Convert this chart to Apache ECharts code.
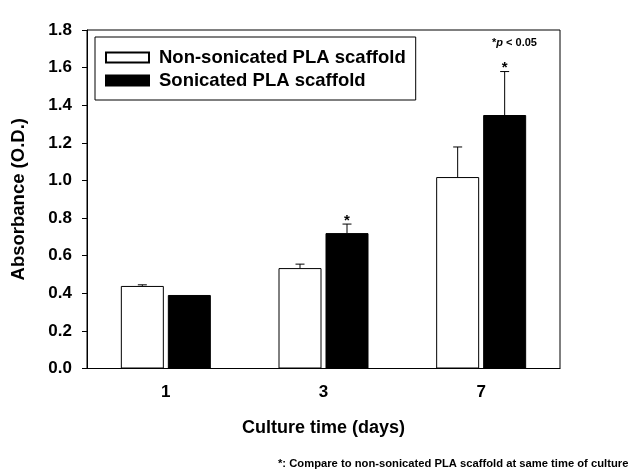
<!DOCTYPE html>
<html>
<head>
<meta charset="utf-8">
<script src="https://cdn.jsdelivr.net/npm/echarts@6/dist/echarts.min.js"></script>
<style>html,body{margin:0;padding:0;background:#fff}#c{width:639px;height:476px}</style>
</head>
<body>
<div id="c"></div>
<script>
const categories = ['1', '3', '7'];
const nonSonicated = [0.439, 0.534, 1.018];
const nonSonicatedErr = [0.006, 0.021, 0.160];
const sonicated = [0.391, 0.720, 1.348];
const sonicatedErr = [0, 0.048, 0.231];
const sonicatedMark = ['', '*', '*'];
const nonSonicatedMark = ['', '', ''];
const seriesNames = ['Non-sonicated PLA scaffold', 'Sonicated PLA scaffold'];
const yMin = 0, yMax = 1.8, yInterval = 0.2;

const FONT = "'Liberation Sans', Arial, sans-serif";
const BAR_W = 43, BAR_GAP = 4;
const offset = (BAR_W + BAR_GAP) / 2;

function errSeries(vals, errs, marks, dx) {
  return {
    type: 'custom',
    z: 5,
    silent: true,
    data: vals.map((v, i) => [i, v, errs[i], marks[i]]),
    renderItem: function (params, api) {
      const i = api.value(0), v = api.value(1), e = api.value(2);
      const mark = marks[i];
      const b = api.coord([i, v]);
      const t = api.coord([i, v + e]);
      const x = b[0] + dx;
      const children = [];
      if (e > 0) {
        children.push({type: 'line', shape: {x1: x, y1: b[1], x2: x, y2: t[1]}, style: {stroke: '#000', lineWidth: 1}});
        children.push({type: 'line', shape: {x1: x - 4.5, y1: t[1], x2: x + 4.5, y2: t[1]}, style: {stroke: '#000', lineWidth: 1}});
      }
      if (mark) {
        children.push({type: 'text', style: {x: x, y: t[1] + 4, text: mark, fill: '#000', font: 'bold 15px ' + FONT, align: 'center', verticalAlign: 'bottom'}});
      }
      return {type: 'group', children: children};
    }
  };
}

const chart = echarts.init(document.getElementById('c'));
chart.setOption({
  animation: false,
  backgroundColor: '#fff',
  textStyle: {fontFamily: FONT},
  grid: {left: 87, right: 79, top: 30, bottom: 107.5, show: true, borderColor: '#000', borderWidth: 1, backgroundColor: 'transparent'},
  legend: {
    data: seriesNames,
    orient: 'vertical',
    left: 95, top: 37,
    selectedMode: false,
    icon: 'rect',
    itemWidth: 43, itemHeight: 10, itemGap: 0,
    borderColor: '#000', borderWidth: 1,
    padding: [9, 10, 8, 10],
    textStyle: {fontSize: 18.5, fontWeight: 'bold', color: '#000', fontFamily: FONT, lineHeight: 23, padding: [0, 0, 0, 5]}
  },
  xAxis: {
    type: 'category',
    data: categories,
    name: 'Culture time (days)',
    nameLocation: 'middle',
    nameGap: 51,
    nameTextStyle: {fontSize: 18, fontWeight: 'bold', color: '#000', fontFamily: FONT},
    axisLine: {lineStyle: {color: '#000', width: 1}},
    axisTick: {alignWithLabel: true, length: 4, lineStyle: {color: '#000'}},
    axisLabel: {fontSize: 17, fontWeight: 'bold', color: '#000', margin: 15, fontFamily: FONT}
  },
  yAxis: {
    type: 'value',
    min: yMin, max: yMax, interval: yInterval,
    name: 'Absorbance (O.D.)',
    nameLocation: 'middle',
    nameGap: 59,
    nameTextStyle: {fontSize: 18.5, fontWeight: 'bold', color: '#000', fontFamily: FONT},
    axisLine: {show: true, lineStyle: {color: '#000', width: 1}},
    axisTick: {show: true, length: 5, lineStyle: {color: '#000'}},
    splitLine: {show: false},
    axisLabel: {fontSize: 17, fontWeight: 'bold', color: '#000', margin: 15, fontFamily: FONT, formatter: v => v.toFixed(1)}
  },
  series: [
    {name: seriesNames[0], type: 'bar', data: nonSonicated, barWidth: BAR_W, barGap: (BAR_GAP / BAR_W * 100) + '%',
     itemStyle: {color: '#fff', borderColor: '#000', borderWidth: 1}},
    {name: seriesNames[1], type: 'bar', data: sonicated, barWidth: BAR_W,
     itemStyle: {color: '#000', borderColor: '#000', borderWidth: 1}},
    errSeries(nonSonicated, nonSonicatedErr, nonSonicatedMark, -offset),
    errSeries(sonicated, sonicatedErr, sonicatedMark, offset)
  ],
  graphic: [
    {type: 'text', left: 492, top: 37, style: {
      text: '{a|*}{p|p}{a| < 0.05}',
      rich: {
        a: {font: 'bold 11px ' + FONT, fill: '#000'},
        p: {font: 'italic bold 11px ' + FONT, fill: '#000'}
      }
    }},
    {type: 'text', x: 278, y: 458, scaleX: 1.02, style: {
      text: '*: Compare to non-sonicated PLA scaffold at same time of culture',
      font: 'bold 11px ' + FONT, fill: '#000'
    }}
  ]
});
</script>
</body>
</html>
